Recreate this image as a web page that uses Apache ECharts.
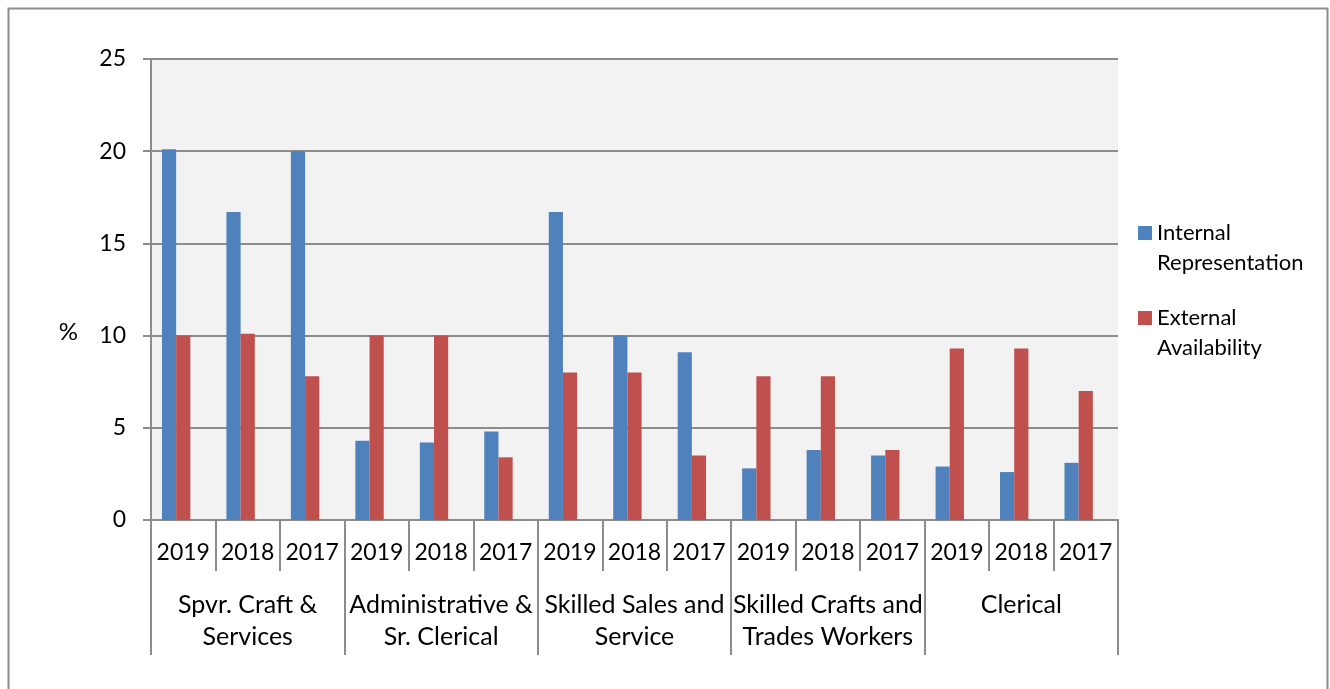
<!DOCTYPE html>
<html>
<head>
<meta charset="utf-8">
<script src="https://cdn.jsdelivr.net/npm/echarts@6/dist/echarts.min.js"></script>
<style>
html,body{margin:0;padding:0;background:#fff;}
#c{width:1330px;height:689px;}
</style>
</head>
<body>
<div id="c"></div>
<script>
const years = ['2019','2018','2017','2019','2018','2017','2019','2018','2017','2019','2018','2017','2019','2018','2017'];
const groups = ['Spvr. Craft &\nServices','Administrative &\nSr. Clerical','Skilled Sales and\nService','Skilled Crafts and\nTrades Workers','Clerical'];
const internalRep = [20.1,16.7,20.0, 4.3,4.2,4.8, 16.7,10.0,9.1, 2.8,3.8,3.5, 2.9,2.6,3.1];
const externalAvail = [10.0,10.1,7.8, 10.0,10.0,3.4, 8.0,8.0,3.5, 7.8,7.8,3.8, 9.3,9.3,7.0];
const padSeries = years.map(() => null);
const yTicks = [0,5,10,15,20,25];

const FONT = 'Lato';
const AX = '#8C8C8C';
const chart = echarts.init(document.getElementById('c'), null, {renderer:'canvas'});
const legendIcon = 'path://M0,8H14V22H0Z M0,0L0.01,0 M0,60L0.01,60';
chart.setOption({
  animation:false,
  textStyle:{fontFamily:FONT},
  graphic:[{type:'rect',left:6,top:6,shape:{width:1319,height:720},style:{fill:'none',stroke:'#8E8E8E',lineWidth:2},silent:true}],
  grid:{left:151,right:212,top:59,bottom:169,show:true,backgroundColor:'#F2F2F2',borderWidth:0,containLabel:false},
  legend:{
    data:['Internal Representation','External Availability'],
    orient:'vertical',left:1133,top:213,itemWidth:14,itemHeight:60,itemGap:25,
    icon:legendIcon,
    formatter:function(n){return n.replace(' ','\n');},
    textStyle:{fontFamily:FONT,fontSize:22,color:'#000',lineHeight:30}
  },
  xAxis:[
    {type:'category',data:years,position:'bottom',
     axisLine:{show:true,lineStyle:{color:AX,width:2}},
     axisTick:{show:true,length:51,interval:0,lineStyle:{color:AX,width:2}},
     axisLabel:{interval:0,margin:21,fontFamily:FONT,fontSize:23,color:'#000'}},
    {type:'category',data:groups,position:'bottom',
     axisLine:{show:false},
     axisTick:{show:true,length:135,interval:0,lineStyle:{color:AX,width:2}},
     axisLabel:{interval:0,margin:69,fontFamily:FONT,fontSize:25,color:'#000',lineHeight:32}}
  ],
  yAxis:{type:'value',min:yTicks[0],max:yTicks[yTicks.length-1],interval:5,
    name:'\n%',nameLocation:'middle',nameRotate:0,nameGap:73,
    nameTextStyle:{fontFamily:FONT,fontSize:24,color:'#000',lineHeight:86},
    axisLine:{show:true,lineStyle:{color:AX,width:2}},
    axisTick:{show:true,length:8,inside:false,lineStyle:{color:AX,width:2}},
    splitLine:{show:true,lineStyle:{color:AX,width:2}},
    axisLabel:{margin:25,fontFamily:FONT,fontSize:23,color:'#000'}},
  series:[
    {name:'Internal Representation',type:'bar',xAxisIndex:0,data:internalRep,barGap:'0%',barCategoryGap:'34%',itemStyle:{color:'#4F81BD'}},
    {name:'External Availability',type:'bar',xAxisIndex:0,data:externalAvail,barGap:'0%',barCategoryGap:'34%',itemStyle:{color:'#C0504D'}},
    {name:'pad',type:'bar',xAxisIndex:0,data:padSeries,barGap:'0%',barCategoryGap:'34%',itemStyle:{color:'rgba(0,0,0,0)'}}
  ]
});
</script>
</body>
</html>
